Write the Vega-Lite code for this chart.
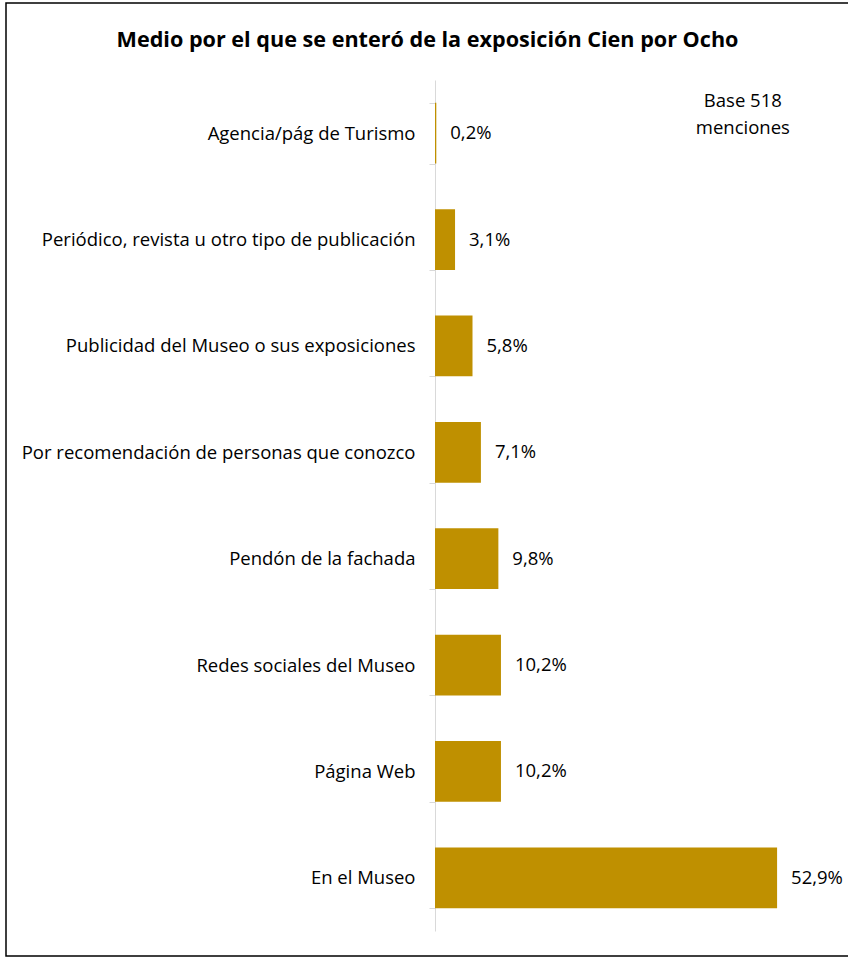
{
  "$schema": "https://vega.github.io/schema/vega-lite/v6.json",
  "autosize": "none",
  "width": 843,
  "height": 953,
  "padding": {"left": 6, "top": 3, "right": 0, "bottom": 1},
  "background": "white",
  "config": {
    "locale": {"number": {"decimal": ",", "thousands": ".", "grouping": [3], "currency": ["", " €"]}},
    "view": {"stroke": "#000", "strokeWidth": 1.5},
    "font": "Open Sans"
  },
  "title": {
    "text": "Medio por el que se enteró de la exposición Cien por Ocho",
    "font": "Open Sans",
    "fontSize": 21.6,
    "fontWeight": "bold",
    "color": "#000",
    "anchor": "middle",
    "baseline": "middle",
    "offset": -69
  },
  "data": {
    "values": [
      {"medio": "Agencia/pág de Turismo", "pct": 0.002},
      {"medio": "Periódico, revista u otro tipo de publicación", "pct": 0.031},
      {"medio": "Publicidad del Museo o sus exposiciones", "pct": 0.058},
      {"medio": "Por recomendación de personas que conozco", "pct": 0.071},
      {"medio": "Pendón de la fachada", "pct": 0.098},
      {"medio": "Redes sociales del Museo", "pct": 0.102},
      {"medio": "Página Web", "pct": 0.102},
      {"medio": "En el Museo", "pct": 0.529}
    ]
  },
  "layer": [
    {
      "mark": {"type": "bar", "color": "#BF9000"},
      "encoding": {
        "y": {
          "field": "medio",
          "type": "nominal",
          "sort": null,
          "scale": {"range": [77, 928], "paddingInner": 0.43, "paddingOuter": 0.215},
          "axis": {
            "title": null,
            "offset": -429,
            "domainColor": "#d9d9d9",
            "domainWidth": 1,
            "tickColor": "#d9d9d9",
            "tickSize": 6,
            "tickBand": "extent",
            "labelPadding": 14,
            "labelFont": "Open Sans",
            "labelFontSize": 18.5,
            "labelColor": "#000",
            "labelLimit": 0,
            "grid": false
          }
        },
        "x": {
          "field": "pct",
          "type": "quantitative",
          "scale": {"domain": [0, 0.6], "range": [429, 817], "nice": false},
          "axis": null
        }
      }
    },
    {
      "mark": {"type": "text", "align": "left", "baseline": "middle", "dx": 14, "fontSize": 18.5, "font": "Open Sans", "color": "#000"},
      "encoding": {
        "y": {"field": "medio", "type": "nominal", "sort": null},
        "x": {"field": "pct", "type": "quantitative"},
        "text": {"field": "pct", "type": "quantitative", "format": ".1%"}
      }
    },
    {
      "data": {"values": [{"nota": "Base 518 menciones"}]},
      "mark": {"type": "text", "align": "center", "baseline": "middle", "dy": -32, "fontSize": 18.5, "font": "Open Sans", "color": "#000", "lineHeight": 27},
      "encoding": {
        "y": {"datum": "Agencia/pág de Turismo"},
        "x": {"datum": 0.476},
        "text": {"value": ["Base 518", "menciones"]}
      }
    }
  ]
}
